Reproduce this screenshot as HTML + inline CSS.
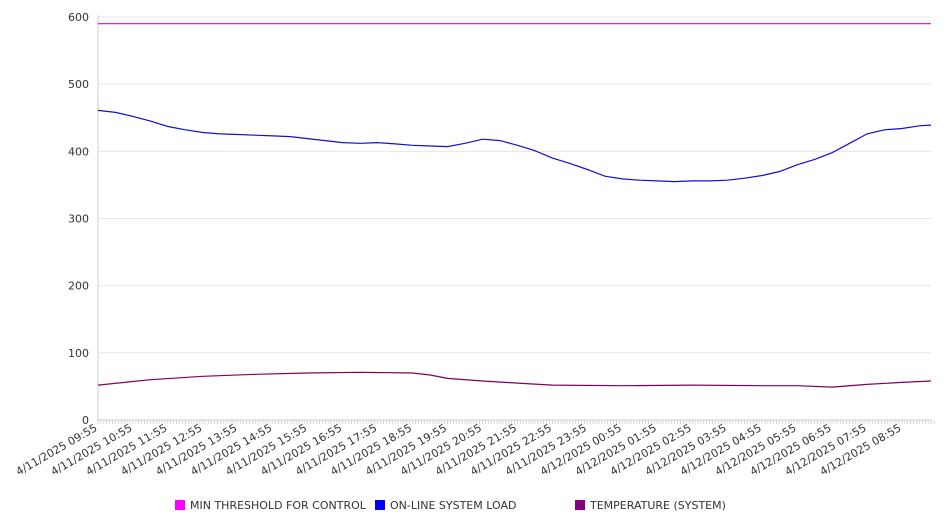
<!DOCTYPE html>
<html><head><meta charset="utf-8"><style>
body{margin:0;background:#fff;font-family:"Liberation Sans","DejaVu Sans",sans-serif}
svg{display:block}
</style></head><body>
<svg id="chart" width="946" height="526" xmlns="http://www.w3.org/2000/svg" font-family="DejaVu Sans, Liberation Sans, sans-serif"></svg>
<script>
const yTicks=[0,100,200,300,400,500,600];
const xLabels=["4/11/2025 09:55","4/11/2025 10:55","4/11/2025 11:55","4/11/2025 12:55","4/11/2025 13:55","4/11/2025 14:55","4/11/2025 15:55","4/11/2025 16:55","4/11/2025 17:55","4/11/2025 18:55","4/11/2025 19:55","4/11/2025 20:55","4/11/2025 21:55","4/11/2025 22:55","4/11/2025 23:55","4/12/2025 00:55","4/12/2025 01:55","4/12/2025 02:55","4/12/2025 03:55","4/12/2025 04:55","4/12/2025 05:55","4/12/2025 06:55","4/12/2025 07:55","4/12/2025 08:55"];
const loadHours=[0,0.5,1,1.5,2,2.5,3,3.5,4,4.5,5,5.5,6,6.5,7,7.5,8,8.5,9,9.5,10,10.5,11,11.5,12,12.5,13,13.5,14,14.5,15,15.5,16,16.5,17,17.5,18,18.5,19,19.5,20,20.5,21,21.5,22,22.5,23,23.5,23.83];
const loadValues=[461,458,452,445,437,432,428,426,425,424,423,422,419,416,413,412,413,411,409,408,407,412,418,416,409,401,390,382,373,363,359,357,356,355,356,356,357,360,364,370,380,388,398,412,426,432,434,438,439];
const tempHours=[0,1.5,3,4.5,6,7.5,9,9.5,10,11,12,13,15,17,19,20,21,22,23,23.83];
const tempValues=[52,60,65,68,70,71,70,67,62,58,55,52,51,52,51,51,49,53,56,58];
const thresholdHours=[0,23.83];
const thresholdValues=[590,590];
const svg=document.getElementById('chart');
const NS='http://www.w3.org/2000/svg';
const X0=98,X1=931,Y0=420,Y1=17,HMAX=23.83;
const xs=h=>X0+h*(X1-X0)/HMAX;
const ys=v=>Y0-v*(Y0-Y1)/600;
function mk(t,a,p){const e=document.createElementNS(NS,t);for(const k in a)e.setAttribute(k,a[k]);(p||svg).appendChild(e);return e;}
yTicks.forEach(v=>{
  if(v>0){const g=mk('line',{x1:X0,x2:X1,y1:ys(v),y2:ys(v),stroke:'#e6e6e6','stroke-width':1});
  
  }
  const t=mk('text',{x:89,y:ys(v)+4,'text-anchor':'end','font-size':11,fill:'#333'});t.textContent=v;
  
  
});
const ax=mk('line',{x1:X0,x2:X0,y1:Y1-2,y2:Y0,stroke:'#ccc'});


const bx=mk('line',{x1:X0,x2:X1,y1:Y0,y2:Y0,stroke:'#ccc'});


let d='';for(let i=0;i<=287;i++){const x=(X0+i*(X1-X0)/286).toFixed(1);d+='M'+x+' '+Y0+'v4';}
const mt=mk('path',{d:d,stroke:'#ccc','stroke-width':0.8});


xLabels.forEach((l,i)=>{const x=xs(i),y=430;
  const t=mk('text',{x:x,y:y,'text-anchor':'end','font-size':11,fill:'#333',transform:`rotate(-30 ${x} ${y})`});t.textContent=l;
  
  
});
function line(hs,vs,col,name){const p=mk('path',{d:hs.map((h,i)=>(i?'L':'M')+xs(h).toFixed(1)+' '+ys(vs[i]).toFixed(1)).join(''),fill:'none',stroke:col,'stroke-width':1.2});
  
  }
line(thresholdHours,thresholdValues,'#e000e0','min-threshold-line');
line(loadHours,loadValues,'#1010d0','online-system-load-line');
line(tempHours,tempValues,'#800060','temperature-line');
const leg=[['MIN THRESHOLD FOR CONTROL','#ff00ff',175],['ON-LINE SYSTEM LOAD','#0000ff',375],['TEMPERATURE (SYSTEM)','#800080',575]];
leg.forEach(([n,c,x])=>{const g=mk('g',{});
  
  
  mk('rect',{x:x,y:500,width:10,height:10,fill:c},g);
  const t=mk('text',{x:x+15,y:509,'font-size':11,fill:'#333'},g);t.textContent=n;});
</script>
</body></html>
